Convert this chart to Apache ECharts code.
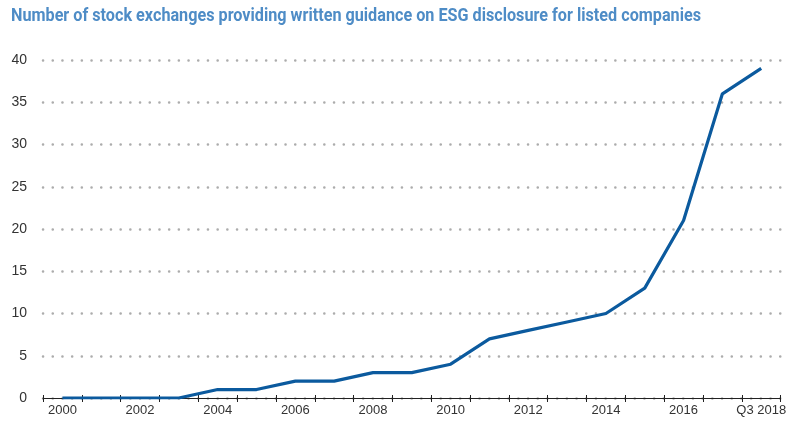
<!DOCTYPE html>
<html>
<head>
<meta charset="utf-8">
<script src="https://cdn.jsdelivr.net/npm/echarts@6/dist/echarts.min.js"></script>
<style>
html,body{margin:0;padding:0;background:#fff;}
#main{width:789px;height:423px;}
</style>
</head>
<body>
<div id="main"></div>
<script>
const titleText = 'Number of stock exchanges providing written guidance on ESG disclosure for listed companies';
const categories = ['2000','2001','2002','2003','2004','2005','2006','2007','2008','2009','2010','2011','2012','2013','2014','2015','2016','2017','Q3 2018'];
const values = [0,0,0,0,1,1,2,2,3,3,4,7,8,9,10,13,21,36,39];
const yTicks = {min:0, max:40, interval:5};

const TITLE_FONT = 'Roboto, "Liberation Sans", sans-serif';
const FONT = '"Liberation Sans", Arial, sans-serif';
const titleSize = 18;
const titleTargetWidth = 690;
const cv = document.createElement('canvas').getContext('2d');
cv.font = 'bold ' + titleSize + 'px ' + TITLE_FONT;
const titleScale = titleTargetWidth / cv.measureText(titleText).width;

const chart = echarts.init(document.getElementById('main'), null, {renderer:'canvas'});
chart.setOption({
  backgroundColor:'#fff',
  animation:false,
  graphic:[{
    type:'text',
    left:11, top:7,
    scaleX:titleScale,
    originX:0, originY:0,
    style:{text:titleText, font:'bold ' + titleSize + 'px ' + TITLE_FONT, fill:'#4e8cc6'}
  }],
  grid:{left:43, right:3, top:60, bottom:25},
  xAxis:[{
    type:'category',
    data:categories,
    boundaryGap:true,
    axisLine:{lineStyle:{color:'#222', width:1}},
    axisTick:{show:true, interval:0, length:4, lineStyle:{color:'#222'}},
    axisLabel:{interval:1, color:'#333', fontFamily:FONT, fontSize:13, margin:6}
  },{
    type:'category',
    data:categories,
    boundaryGap:true,
    position:'bottom',
    axisLine:{show:false},
    axisTick:{show:true, inside:true, interval:0, length:3, lineStyle:{color:'#222'}},
    axisLabel:{show:false}
  }],
  yAxis:{
    type:'value',
    min:yTicks.min, max:yTicks.max, interval:yTicks.interval,
    axisLine:{show:false},
    axisTick:{show:false},
    axisLabel:{color:'#333', fontFamily:FONT, fontSize:14, margin:16},
    splitLine:{show:true, lineStyle:{color:'#acacac', width:2.5, type:[0.1,9.6], cap:'round'}}
  },
  series:[{
    type:'line',
    data:values,
    symbol:'none',
    lineStyle:{color:'#0b5a9e', width:3.2},
    z:3
  }]
});
</script>
</body>
</html>
